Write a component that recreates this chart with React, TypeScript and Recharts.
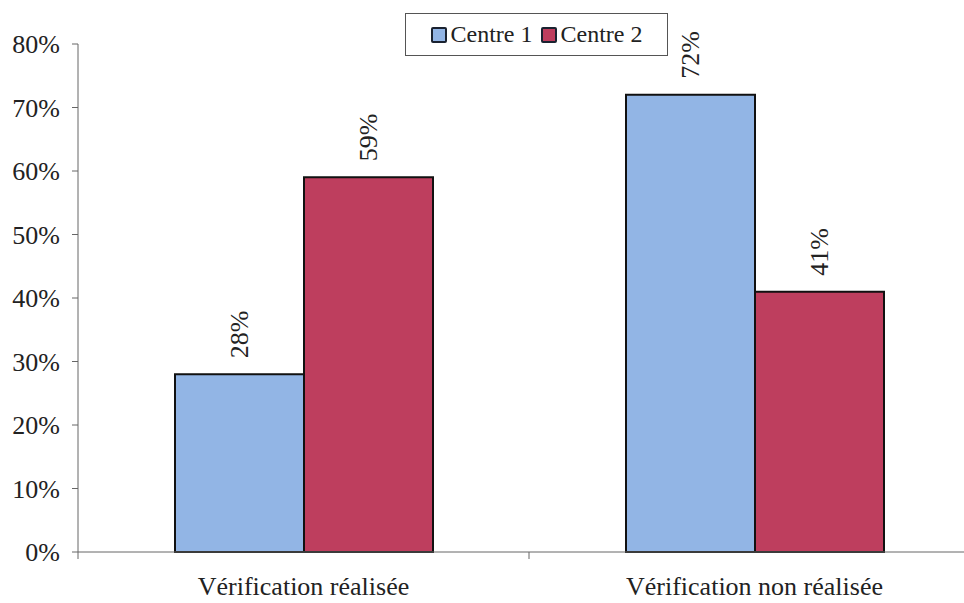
import React from 'react'
import { BarChart, Bar, XAxis, YAxis, LabelList } from 'recharts'

const categories = ['Vérification réalisée', 'Vérification non réalisée']
const centre1 = [28, 72]
const centre2 = [59, 41]
const yTicks = [0, 10, 20, 30, 40, 50, 60, 70, 80]

const data = categories.map((name, i) => ({
  name,
  c1: centre1[i],
  c2: centre2[i],
}))

const FONT = '"Liberation Serif", serif'
const BLUE = '#92b5e5'
const RED = '#be3e5e'
const CHART_W = 980
const AXIS_X = 78
const HALF_BAND = (CHART_W - AXIS_X) / categories.length / 2

function CategoryTick(props: any) {
  const { x, y, payload } = props
  return (
    <g>
      <line x1={x - HALF_BAND} y1={y - 8} x2={x - HALF_BAND} y2={y - 1} stroke="#666" />
      <text
        x={x}
        y={y + 35}
        textAnchor="middle"
        fontFamily={FONT}
        fontSize={26}
        fill="#222"
      >
        {payload.value}
      </text>
    </g>
  )
}

function ValueLabel(props: any) {
  const { x, y, width, value } = props
  return (
    <text
      transform={`translate(${x + width / 2}, ${y - 16}) rotate(-90)`}
      textAnchor="start"
      dominantBaseline="central"
      fontFamily={FONT}
      fontSize={26}
      fill="#222"
    >
      {value}%
    </text>
  )
}

function LegendBox() {
  const item = (color: string, label: string) => (
    <span style={{ display: 'inline-flex', alignItems: 'center', marginRight: 8 }}>
      <span
        style={{
          display: 'inline-block',
          width: 12,
          height: 12,
          background: color,
          border: '2px solid #1a2230',
          borderRadius: 2,
          marginRight: 4,
        }}
      />
      <span>{label}</span>
    </span>
  )
  return (
    <div
      style={{
        position: 'absolute',
        left: 405,
        top: 13,
        boxSizing: 'border-box',
        width: 263,
        height: 43,
        border: '1.5px solid #555',
        background: '#fff',
        display: 'flex',
        alignItems: 'center',
        justifyContent: 'center',
        fontFamily: FONT,
        fontSize: 24,
        color: '#222',
        paddingLeft: 8,
      }}
    >
      {item(BLUE, 'Centre 1')}
      {item(RED, 'Centre 2')}
    </div>
  )
}

export default function App() {
  return (
    <div
      style={{
        position: 'absolute',
        left: 0,
        top: 0,
        width: 964,
        height: 603,
        overflow: 'hidden',
        background: '#fff',
        fontFamily: FONT,
      }}
    >
      <BarChart
        width={CHART_W}
        height={603}
        data={data}
        margin={{ top: 44, right: 0, bottom: 11, left: 0 }}
        barGap={0}
      >
        <XAxis
          dataKey="name"
          height={40}
          axisLine={{ stroke: '#666' }}
          tickLine={false}
          tick={<CategoryTick />}
          interval={0}
        />
        <YAxis
          width={AXIS_X}
          domain={[0, 80]}
          ticks={yTicks}
          tickFormatter={(v: number) => `${v}%`}
          axisLine={{ stroke: '#666' }}
          tickLine={{ stroke: '#666' }}
          tickSize={6}
          tickMargin={12}
          tick={{ fontFamily: FONT, fontSize: 26, fill: '#222' }}
        />
        <Bar
          dataKey="c1"
          name="Centre 1"
          fill={BLUE}
          stroke="#111"
          strokeWidth={2}
          barSize={129}
          isAnimationActive={false}
        >
          <LabelList dataKey="c1" content={<ValueLabel />} />
        </Bar>
        <Bar
          dataKey="c2"
          name="Centre 2"
          fill={RED}
          stroke="#111"
          strokeWidth={2}
          barSize={129}
          isAnimationActive={false}
        >
          <LabelList dataKey="c2" content={<ValueLabel />} />
        </Bar>
      </BarChart>
      <LegendBox />
    </div>
  )
}
